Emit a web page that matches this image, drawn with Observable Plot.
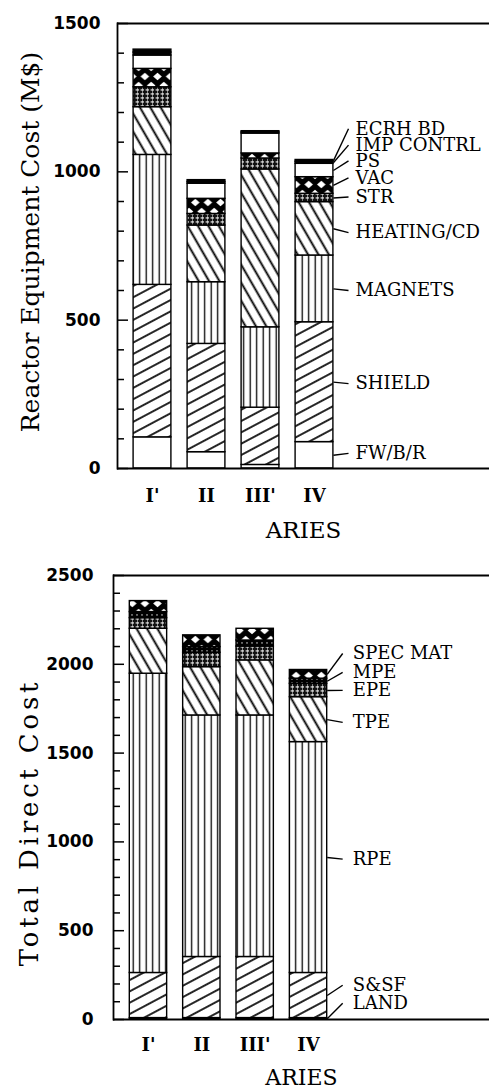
<!DOCTYPE html>
<html><head><meta charset="utf-8">
<script src="https://cdn.jsdelivr.net/npm/d3@7"></script>
<script src="https://cdn.jsdelivr.net/npm/@observablehq/plot@0.6"></script>
<style>
html,body{margin:0;padding:0;background:#fff;}
#chart{width:489px;}
#chart svg{display:block;}
</style></head><body>
<svg width="0" height="0" style="position:absolute">
<defs>
<pattern id="pFwd" patternUnits="userSpaceOnUse" width="20" height="10" patternTransform="rotate(-28)">
  <rect width="20" height="10" fill="white"/>
  <line x1="0" y1="5" x2="20" y2="5" stroke="black" stroke-width="1.7"/>
</pattern>
<pattern id="pBack" patternUnits="userSpaceOnUse" width="20" height="9" patternTransform="rotate(60)">
  <rect width="20" height="9" fill="white"/>
  <line x1="0" y1="4.5" x2="20" y2="4.5" stroke="black" stroke-width="1.9"/>
</pattern>
<pattern id="pVert" patternUnits="userSpaceOnUse" width="6.5" height="10">
  <rect width="6.5" height="10" fill="white"/>
  <line x1="3.2" y1="0" x2="3.2" y2="10" stroke="black" stroke-width="1.3"/>
</pattern>
<pattern id="pX" patternUnits="userSpaceOnUse" width="12.6" height="18">
  <rect width="12.6" height="18" fill="black"/>
  <path d="M6.3,0.8 L10.6,4.5 L6.3,8.2 L2,4.5 Z" fill="white"/>
  <path d="M0,9.8 L4.3,13.5 L0,17.2 L-4.3,13.5 Z M12.6,9.8 L16.9,13.5 L12.6,17.2 L8.3,13.5 Z" fill="white"/>
</pattern>
<pattern id="pGrid" patternUnits="userSpaceOnUse" width="5" height="4">
  <rect width="5" height="4" fill="#111"/>
  <rect x="0.6" y="1.4" width="3.4" height="1.1" fill="white"/>
  <rect x="2" y="0" width="0.9" height="4" fill="white" opacity="0.55"/>
</pattern>
<pattern id="pDark" patternUnits="userSpaceOnUse" width="5" height="4">
  <rect width="5" height="4" fill="#000"/>
  <rect x="1" y="1.5" width="2" height="0.9" fill="white" opacity="0.8"/>
</pattern>
</defs>
</svg>
<div id="chart"></div>
<script>
// ---- data ----
const aries = ["I'", "II", "III'", "IV"];

const reactorLayers = ["FW/B/R", "SHIELD", "MAGNETS", "HEATING/CD", "STR", "VAC", "PS", "IMP CONTRL", "ECRH BD"];
const reactorI   = [105, 514, 438, 161, 67, 62, 45, 10, 10];
const reactorII  = [55, 365, 208, 191, 39, 51, 51, 6, 6];
const reactorIII = [12, 193, 271, 532, 37, 17, 67, 4, 4];
const reactorIV  = [89, 404, 225, 180, 28, 56, 45, 7, 6];
const reactorLabelAt = [51, 286, 600, 795, 915, 980, 1037, 1090, 1145];
const reactorTicks = [0, 500, 1000, 1500];
const reactorTitle = "Reactor Equipment Cost (M$)";

const directLayers = ["LAND", "S&SF", "RPE", "TPE", "EPE", "MPE", "SPEC MAT"];
const directI   = [8, 254, 1685, 253, 60, 34, 62];
const directII  = [8, 344, 1360, 272, 81, 32, 66];
const directIII = [8, 344, 1360, 310, 78, 34, 66];
const directIV  = [8, 254, 1300, 253, 75, 29, 49];
const directLabelAt = [92, 193, 903, 1673, 1853, 1954, 2061];
const directTicks = [0, 500, 1000, 1500, 2000, 2500];
const directTitle = "Total Direct Cost";

const reactorFill = {
  "FW/B/R": "white", "SHIELD": "url(#pFwd)", "MAGNETS": "url(#pVert)", "HEATING/CD": "url(#pBack)",
  "STR": "url(#pGrid)", "VAC": "url(#pX)", "PS": "white", "IMP CONTRL": "black", "ECRH BD": "black"
};
const directFill = {
  "LAND": "white", "S&SF": "url(#pFwd)", "RPE": "url(#pVert)", "TPE": "url(#pBack)",
  "EPE": "url(#pGrid)", "MPE": "url(#pDark)", "SPEC MAT": "url(#pX)"
};

const serif = "DejaVu Serif";
const sans = "DejaVu Sans";
const half = 0.35;

function buildChart(o) {
  const rows = [];
  o.series.forEach((vals, i) => vals.forEach((v, j) =>
    rows.push({idx: i, aries: aries[i], layer: o.layers[j], value: v})));
  const last = o.series[o.series.length - 1];
  let acc = 0;
  const leaders = o.layers.map((layer, j) => {
    const lo = acc; acc += last[j];
    return {layer, mid: (lo + acc) / 2, at: o.labelAt[j]};
  });
  const minor = d3.range(0, o.yMax + 1, 100).filter(v => v % 500 !== 0);
  const svg = Plot.plot({
    width: 489, height: o.height,
    marginTop: o.marginTop, marginBottom: o.marginBottom, marginLeft: o.marginLeft, marginRight: 0,
    x: {domain: [-0.5, 3.5], range: o.xRange, axis: null},
    y: {domain: [0, o.yMax], axis: null},
    color: {type: "identity"},
    style: {fontFamily: sans, background: "white", color: "black"},
    marks: [
      Plot.rectY(rows, Plot.stackY({
        x1: d => d.idx - half, x2: d => d.idx + half, y: "value",
        fill: d => o.fills[d.layer], stroke: "black", strokeWidth: 1.4
      })),
      Plot.ruleY([0, o.yMax], {stroke: "black", strokeWidth: 1.8}),
      Plot.frame({anchor: "left", stroke: "black", strokeWidth: 1.8}),
      Plot.axisY(minor, {anchor: "left", tickSize: 7, dx: 7, text: null, label: null, strokeWidth: 1.5}),
      Plot.axisY(o.ticks, {anchor: "left", tickSize: 11, dx: 11, text: null, label: null, strokeWidth: 1.5}),
      Plot.axisY(o.ticks, {anchor: "left", tickSize: 0, tickPadding: o.tickPad, label: null,
        tickFormat: d3.format("d"), fontFamily: sans, fontSize: 17, fontWeight: "bold"}),
      Plot.axisX([0, 1, 2, 3], {anchor: "bottom", tickSize: 0, tickPadding: o.xPad, label: null,
        tickFormat: i => aries[i], fontFamily: serif, fontSize: 18, fontWeight: "bold"}),
      Plot.text(["ARIES"], {frameAnchor: "bottom", dy: o.ariesDy, lineAnchor: "middle",
        fontFamily: serif, fontSize: o.ariesSize}),
      Plot.text([o.title], {frameAnchor: "left", rotate: -90, dx: o.titleDx, dy: o.titleDy,
        textAnchor: "middle", lineAnchor: "middle", fontFamily: serif, fontSize: o.titleSize}),
      Plot.link(leaders, {x1: 3 + half, y1: "mid", x2: o.leadX, y2: "at", stroke: "black", strokeWidth: 1.4}),
      Plot.text(leaders, {x: o.labelX, y: "at", text: "layer", textAnchor: "start", lineAnchor: "middle",
        fontFamily: serif, fontSize: 18})
    ]
  });
  svg.querySelectorAll("text").forEach(t => {
    if (t.textContent === o.title) t.style.letterSpacing = o.titleSpacing;
  });
  return svg;
}

const chartTop = buildChart({
  layers: reactorLayers, series: [reactorI, reactorII, reactorIII, reactorIV],
  labelAt: reactorLabelAt, ticks: reactorTicks, yMax: 1500, title: reactorTitle,
  fills: reactorFill, height: 545, marginTop: 23, marginBottom: 77, marginLeft: 117,
  xRange: [125, 341], tickPad: 17, xPad: 21, ariesDy: 62, ariesSize: 23, titleDx: -87, titleDy: -4,
  titleSize: 25, titleSpacing: "0px", leadX: 3.63, labelX: 3.76
});
const chartBottom = buildChart({
  layers: directLayers, series: [directI, directII, directIII, directIV],
  labelAt: directLabelAt, ticks: directTicks, yMax: 2500, title: directTitle,
  fills: directFill, height: 546, marginTop: 30, marginBottom: 72, marginLeft: 113,
  xRange: [121.3, 334.7], tickPad: 20, xPad: 19, ariesDy: 58, ariesSize: 22, titleDx: -84, titleDy: 25,
  titleSize: 26, titleSpacing: "3.8px", leadX: 3.64, labelX: 3.83
});
document.getElementById("chart").append(chartTop, chartBottom);
</script>
</body></html>
